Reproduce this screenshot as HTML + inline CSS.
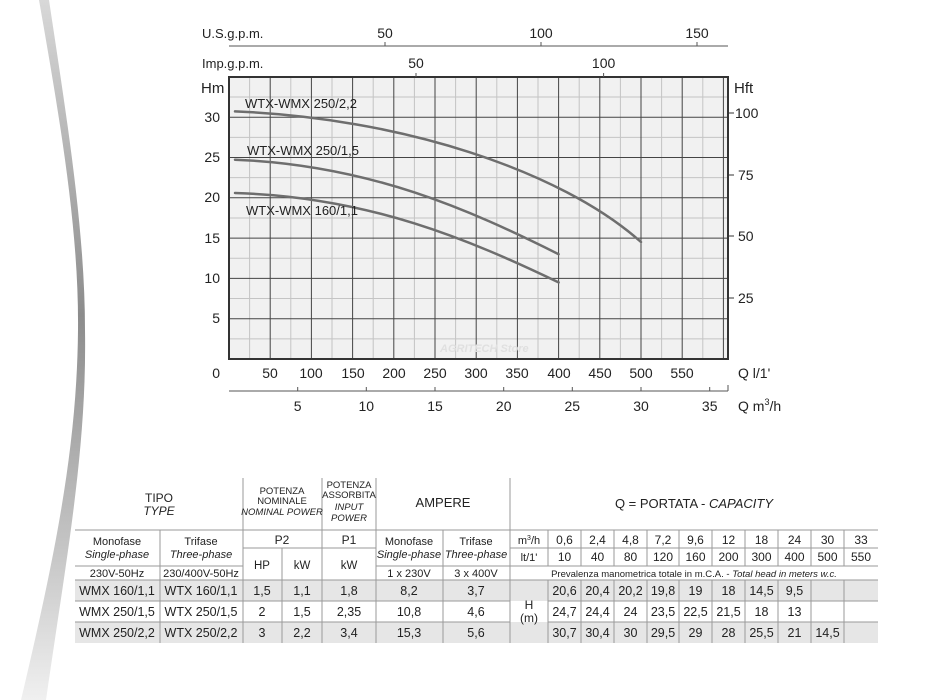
<!DOCTYPE html>
<html><head><meta charset="utf-8"><style>
html,body{margin:0;padding:0;background:#fff;}
svg{display:block;font-family:"Liberation Sans",sans-serif;}
</style></head><body>
<svg width="950" height="700" viewBox="0 0 950 700" xmlns="http://www.w3.org/2000/svg">
<defs>
<linearGradient id="sw" x1="0" y1="0" x2="0" y2="1">
<stop offset="0" stop-color="#d8d8d8"/><stop offset="0.45" stop-color="#8c8c8c"/><stop offset="0.8" stop-color="#c8c8c8"/><stop offset="1" stop-color="#f0f0f0"/>
</linearGradient>
</defs>
<path d="M39,0 C60,120 79,230 78,330 C77,450 54,560 21,700 L46,700 C66,560 87,450 85,330 C85,230 67,120 49,0 Z" fill="url(#sw)"/>

<!-- plot -->
<rect x="229" y="77" width="499" height="282" fill="#f1f1f1"/>
<g stroke="#c4c4c4" stroke-width="1">
<line x1="249.6" y1="77" x2="249.6" y2="359"/><line x1="290.8" y1="77" x2="290.8" y2="359"/><line x1="332" y1="77" x2="332" y2="359"/><line x1="373.2" y1="77" x2="373.2" y2="359"/><line x1="414.4" y1="77" x2="414.4" y2="359"/><line x1="455.6" y1="77" x2="455.6" y2="359"/><line x1="496.8" y1="77" x2="496.8" y2="359"/><line x1="538" y1="77" x2="538" y2="359"/><line x1="579.2" y1="77" x2="579.2" y2="359"/><line x1="620.4" y1="77" x2="620.4" y2="359"/><line x1="661.6" y1="77" x2="661.6" y2="359"/><line x1="702.8" y1="77" x2="702.8" y2="359"/>
<line x1="229" y1="338.85" x2="728" y2="338.85"/><line x1="229" y1="298.55" x2="728" y2="298.55"/><line x1="229" y1="258.25" x2="728" y2="258.25"/><line x1="229" y1="217.95" x2="728" y2="217.95"/><line x1="229" y1="177.65" x2="728" y2="177.65"/><line x1="229" y1="137.35" x2="728" y2="137.35"/><line x1="229" y1="97.05" x2="728" y2="97.05"/>
</g>
<g stroke="#444" stroke-width="1">
<line x1="270.2" y1="77" x2="270.2" y2="359"/><line x1="311.4" y1="77" x2="311.4" y2="359"/><line x1="352.6" y1="77" x2="352.6" y2="359"/><line x1="393.8" y1="77" x2="393.8" y2="359"/><line x1="435" y1="77" x2="435" y2="359"/><line x1="476.2" y1="77" x2="476.2" y2="359"/><line x1="517.4" y1="77" x2="517.4" y2="359"/><line x1="558.6" y1="77" x2="558.6" y2="359"/><line x1="599.8" y1="77" x2="599.8" y2="359"/><line x1="641" y1="77" x2="641" y2="359"/><line x1="682.2" y1="77" x2="682.2" y2="359"/><line x1="723.4" y1="77" x2="723.4" y2="359"/>
<line x1="229" y1="318.7" x2="728" y2="318.7"/><line x1="229" y1="278.4" x2="728" y2="278.4"/><line x1="229" y1="238.1" x2="728" y2="238.1"/><line x1="229" y1="197.8" x2="728" y2="197.8"/><line x1="229" y1="157.5" x2="728" y2="157.5"/><line x1="229" y1="117.2" x2="728" y2="117.2"/>
</g>
<rect x="229" y="77" width="499" height="282" fill="none" stroke="#333" stroke-width="2"/>
<text x="440" y="352" font-size="11" font-style="italic" font-weight="bold" fill="#e0e0e0">AGRITECH Store</text>

<g fill="none" stroke="#6e6e6e" stroke-width="2.5" stroke-linecap="round">
<path d="M235,111.4 C400,118 560,170 641,242"/>
<path d="M235,159.7 C370,165 470,210 558.6,254.2"/>
<path d="M235,193 C370,197 470,240 558.6,282.4"/>
</g>
<g font-size="13" fill="#222">
<text x="245" y="108">WTX-WMX 250/2,2</text>
<text x="247" y="155">WTX-WMX 250/1,5</text>
<text x="246" y="215">WTX-WMX 160/1,1</text>
</g>

<!-- left axis -->
<g font-size="14" fill="#222" text-anchor="end">
<text x="220" y="122">30</text><text x="220" y="162">25</text><text x="220" y="202">20</text><text x="220" y="243">15</text><text x="220" y="283">10</text><text x="220" y="323">5</text><text x="220" y="378">0</text>
</g>
<text x="201" y="93" font-size="15" fill="#222">Hm</text>
<!-- right axis -->
<text x="734" y="93" font-size="15" fill="#222">Hft</text>
<g stroke="#333" stroke-width="1"><line x1="728" y1="113" x2="734" y2="113"/><line x1="728" y1="175" x2="734" y2="175"/><line x1="728" y1="236" x2="734" y2="236"/><line x1="728" y1="298" x2="734" y2="298"/></g>
<g font-size="14" fill="#222"><text x="735" y="118">100</text><text x="738" y="180">75</text><text x="738" y="241">50</text><text x="738" y="303">25</text></g>
<!-- bottom l/min -->
<g font-size="14" fill="#222" text-anchor="middle">
<text x="270" y="378">50</text><text x="311" y="378">100</text><text x="353" y="378">150</text><text x="394" y="378">200</text><text x="435" y="378">250</text><text x="476" y="378">300</text><text x="517" y="378">350</text><text x="559" y="378">400</text><text x="600" y="378">450</text><text x="641" y="378">500</text><text x="682" y="378">550</text>
</g>
<text x="738" y="378" font-size="14" fill="#222">Q l/1'</text>
<!-- bottom m3/h -->
<line x1="229" y1="391" x2="728" y2="391" stroke="#555" stroke-width="1"/>
<g stroke="#555"><line x1="297.7" y1="391" x2="297.7" y2="387"/><line x1="366.3" y1="391" x2="366.3" y2="387"/><line x1="435" y1="391" x2="435" y2="387"/><line x1="503.7" y1="391" x2="503.7" y2="387"/><line x1="572.3" y1="391" x2="572.3" y2="387"/><line x1="641" y1="391" x2="641" y2="387"/><line x1="709.7" y1="391" x2="709.7" y2="387"/><line x1="728" y1="391" x2="728" y2="385"/></g>
<g font-size="14" fill="#222" text-anchor="middle">
<text x="297.7" y="411">5</text><text x="366.3" y="411">10</text><text x="435" y="411">15</text><text x="503.7" y="411">20</text><text x="572.3" y="411">25</text><text x="641" y="411">30</text><text x="709.7" y="411">35</text>
</g>
<text x="738" y="411" font-size="14" fill="#222">Q m<tspan font-size="9" dy="-6">3</tspan><tspan dy="6">/h</tspan></text>
<!-- top axes -->
<line x1="229" y1="46" x2="728" y2="46" stroke="#555" stroke-width="1"/>
<g stroke="#555"><line x1="385" y1="46" x2="385" y2="42"/><line x1="541" y1="46" x2="541" y2="42"/><line x1="697" y1="46" x2="697" y2="42"/><line x1="416" y1="77" x2="416" y2="73"/><line x1="603.6" y1="77" x2="603.6" y2="73"/></g>
<g font-size="14" fill="#222" text-anchor="middle">
<text x="385" y="38">50</text><text x="541" y="38">100</text><text x="697" y="38">150</text>
<text x="416" y="68">50</text><text x="603.6" y="68">100</text>
</g>
<text x="202" y="38" font-size="13" fill="#222">U.S.g.p.m.</text>
<text x="202" y="68" font-size="13" fill="#222">Imp.g.p.m.</text>

<!-- TABLE -->
<g fill="#e6e6e6">
<rect x="75" y="580" width="473" height="21"/>
<rect x="75" y="622" width="473" height="21"/>
<rect x="548" y="580" width="330" height="21"/>
<rect x="548" y="622" width="330" height="21"/>
</g>
<g stroke="#9a9a9a" stroke-width="1" fill="none">
<line x1="75" y1="530" x2="878" y2="530"/>
<line x1="243" y1="548" x2="376" y2="548"/>
<line x1="510" y1="548" x2="878" y2="548"/>
<line x1="75" y1="566" x2="243" y2="566"/>
<line x1="376" y1="566" x2="878" y2="566"/>
<line x1="75" y1="580" x2="878" y2="580"/>
<line x1="75" y1="601" x2="510" y2="601"/><line x1="548" y1="601" x2="878" y2="601"/>
<line x1="75" y1="622" x2="510" y2="622"/><line x1="548" y1="622" x2="878" y2="622"/>
<line x1="243" y1="478" x2="243" y2="643"/>
<line x1="322" y1="478" x2="322" y2="643"/>
<line x1="376" y1="478" x2="376" y2="643"/>
<line x1="510" y1="478" x2="510" y2="643"/>
<line x1="160" y1="530" x2="160" y2="643"/>
<line x1="282" y1="548" x2="282" y2="643"/>
<line x1="443" y1="530" x2="443" y2="643"/>
<line x1="548" y1="530" x2="548" y2="566"/><line x1="548" y1="580" x2="548" y2="643"/>
<line x1="581" y1="530" x2="581" y2="566"/><line x1="614" y1="530" x2="614" y2="566"/><line x1="647" y1="530" x2="647" y2="566"/><line x1="679" y1="530" x2="679" y2="566"/><line x1="712" y1="530" x2="712" y2="566"/><line x1="745" y1="530" x2="745" y2="566"/><line x1="778" y1="530" x2="778" y2="566"/><line x1="811" y1="530" x2="811" y2="566"/><line x1="844" y1="530" x2="844" y2="566"/>
<line x1="581" y1="580" x2="581" y2="643"/><line x1="614" y1="580" x2="614" y2="643"/><line x1="647" y1="580" x2="647" y2="643"/><line x1="679" y1="580" x2="679" y2="643"/><line x1="712" y1="580" x2="712" y2="643"/><line x1="745" y1="580" x2="745" y2="643"/><line x1="778" y1="580" x2="778" y2="643"/><line x1="811" y1="580" x2="811" y2="643"/><line x1="844" y1="580" x2="844" y2="643"/>
</g>
<g fill="#222" text-anchor="middle" font-size="12">
<text x="159" y="502">TIPO</text><text x="159" y="515" font-style="italic">TYPE</text>
<text x="282" y="494" font-size="9.5">POTENZA</text><text x="282" y="504" font-size="9.5">NOMINALE</text><text x="282" y="515" font-size="9.5" font-style="italic">NOMINAL POWER</text>
<text x="349" y="488" font-size="9.5">POTENZA</text><text x="349" y="498" font-size="9.5">ASSORBITA</text><text x="349" y="510" font-size="9.5" font-style="italic">INPUT</text><text x="349" y="521" font-size="9.5" font-style="italic">POWER</text>
<text x="443" y="507" font-size="13">AMPERE</text>
<text x="694" y="508" font-size="13">Q = PORTATA - <tspan font-style="italic">CAPACITY</tspan></text>
<text x="117" y="545" font-size="11">Monofase</text><text x="117" y="558" font-size="11" font-style="italic">Single-phase</text>
<text x="201" y="545" font-size="11">Trifase</text><text x="201" y="558" font-size="11" font-style="italic">Three-phase</text>
<text x="282" y="544" font-size="12">P2</text><text x="349" y="544" font-size="12">P1</text>
<text x="262" y="569" font-size="11.5">HP</text><text x="302" y="569" font-size="11.5">kW</text><text x="349" y="569" font-size="11.5">kW</text>
<text x="409" y="545" font-size="11">Monofase</text><text x="409" y="558" font-size="11" font-style="italic">Single-phase</text>
<text x="476" y="545" font-size="11">Trifase</text><text x="476" y="558" font-size="11" font-style="italic">Three-phase</text>
<text x="117" y="577" font-size="11">230V-50Hz</text><text x="201" y="577" font-size="11">230/400V-50Hz</text>
<text x="409" y="577" font-size="11">1 x 230V</text><text x="476" y="577" font-size="11">3 x 400V</text>
<text x="694" y="577" font-size="9.5">Prevalenza manometrica totale in m.C.A. - <tspan font-style="italic">Total head in meters w.c.</tspan></text>
<text x="529" y="544" font-size="11">m<tspan font-size="7" dy="-4">3</tspan><tspan dy="4">/h</tspan></text>
<text x="529" y="561" font-size="11">lt/1'</text>
<g font-size="12">
<text x="564.5" y="544">0,6</text><text x="597.5" y="544">2,4</text><text x="630.5" y="544">4,8</text><text x="663" y="544">7,2</text><text x="695.5" y="544">9,6</text><text x="728.5" y="544">12</text><text x="761.5" y="544">18</text><text x="794.5" y="544">24</text><text x="827.5" y="544">30</text><text x="861" y="544">33</text>
<text x="564.5" y="561">10</text><text x="597.5" y="561">40</text><text x="630.5" y="561">80</text><text x="663" y="561">120</text><text x="695.5" y="561">160</text><text x="728.5" y="561">200</text><text x="761.5" y="561">300</text><text x="794.5" y="561">400</text><text x="827.5" y="561">500</text><text x="861" y="561">550</text>
</g>
<text x="529" y="609" font-size="12">H</text><text x="529" y="622" font-size="12">(m)</text>
<g font-size="12.5">
<text x="117" y="595">WMX 160/1,1</text><text x="201" y="595">WTX 160/1,1</text><text x="262" y="595">1,5</text><text x="302" y="595">1,1</text><text x="349" y="595">1,8</text><text x="409" y="595">8,2</text><text x="476" y="595">3,7</text>
<text x="117" y="616">WMX 250/1,5</text><text x="201" y="616">WTX 250/1,5</text><text x="262" y="616">2</text><text x="302" y="616">1,5</text><text x="349" y="616">2,35</text><text x="409" y="616">10,8</text><text x="476" y="616">4,6</text>
<text x="117" y="637">WMX 250/2,2</text><text x="201" y="637">WTX 250/2,2</text><text x="262" y="637">3</text><text x="302" y="637">2,2</text><text x="349" y="637">3,4</text><text x="409" y="637">15,3</text><text x="476" y="637">5,6</text>
<text x="564.5" y="595">20,6</text><text x="597.5" y="595">20,4</text><text x="630.5" y="595">20,2</text><text x="663" y="595">19,8</text><text x="695.5" y="595">19</text><text x="728.5" y="595">18</text><text x="761.5" y="595">14,5</text><text x="794.5" y="595">9,5</text>
<text x="564.5" y="616">24,7</text><text x="597.5" y="616">24,4</text><text x="630.5" y="616">24</text><text x="663" y="616">23,5</text><text x="695.5" y="616">22,5</text><text x="728.5" y="616">21,5</text><text x="761.5" y="616">18</text><text x="794.5" y="616">13</text>
<text x="564.5" y="637">30,7</text><text x="597.5" y="637">30,4</text><text x="630.5" y="637">30</text><text x="663" y="637">29,5</text><text x="695.5" y="637">29</text><text x="728.5" y="637">28</text><text x="761.5" y="637">25,5</text><text x="794.5" y="637">21</text><text x="827.5" y="637">14,5</text>
</g>
</g>
</svg>
</body></html>
